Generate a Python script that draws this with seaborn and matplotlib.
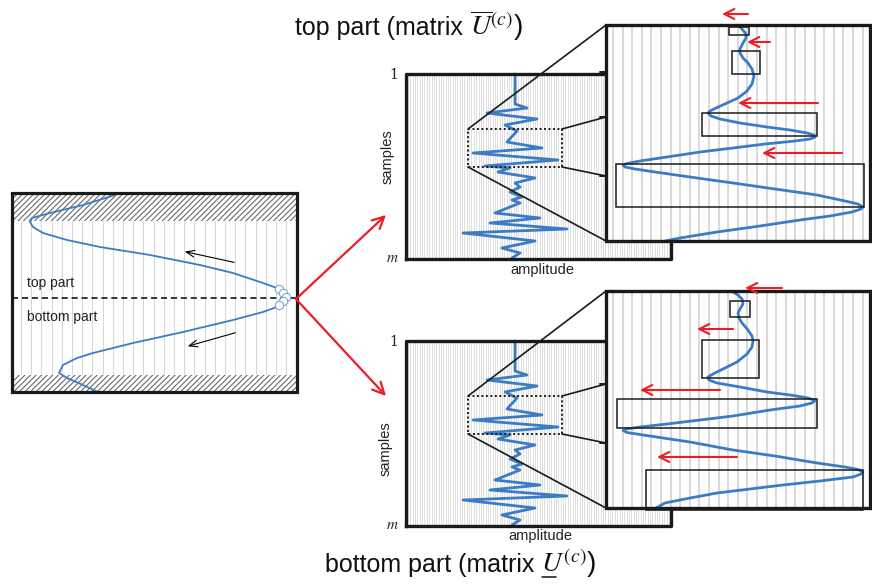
import numpy as np
import matplotlib
matplotlib.use("Agg")
import matplotlib.pyplot as plt
import seaborn as sns
from matplotlib.patches import Rectangle

sns.set_theme(style="white")
plt.rcParams['font.family'] = ['Liberation Sans', 'DejaVu Sans']
plt.rcParams['mathtext.fontset'] = 'stix'
plt.rcParams['hatch.linewidth'] = 0.8

# ---------------- data (pixel units) ----------------
left_top_x = [115, 83, 50, 32, 30, 33, 43, 67, 100, 150, 200, 233, 260, 277]
left_top_y = [195, 205, 213, 218, 222, 227, 233, 240, 247, 255, 265, 273, 282, 288]
left_bot_x = [277, 263, 233, 183, 133, 93, 77, 63, 59, 67, 83, 100]
left_bot_y = [307, 312, 320, 332, 343, 353, 358, 365, 373, 378, 385, 393]

wave_amp = [515, 515, 527, 487, 537, 505, 517, 507, 542, 473, 558, 485, 510, 498, 535,
            515, 520, 510, 522, 512, 520, 495, 540, 490, 567, 463, 535, 502, 520, 512]
wave_samp = [74, 104, 108, 113, 119, 125, 131, 142, 148, 153, 160, 166, 168, 172, 178,
             183, 187, 192, 197, 200, 203, 213, 218, 223, 229, 233, 241, 248, 253, 258]

top_zoom_x = [738, 742, 746, 746, 743, 740, 740, 743, 748, 752, 754, 752, 747, 738, 727,
              716, 710, 708, 711, 720, 740, 767, 790, 807, 814, 815, 810, 795, 765, 733,
              700, 667, 640, 627, 623, 625, 635, 655, 690, 733, 775, 817, 845, 858, 863,
              861, 852, 830, 800, 760, 717, 680, 665]
top_zoom_y = [25, 29, 34, 38, 43, 49, 53, 58, 63, 69, 76, 84, 91, 98, 103,
              108, 111, 113, 116, 119, 123, 127, 130, 133, 135, 137, 139, 141, 144, 148,
              152, 157, 161, 163.5, 165, 167, 169, 172, 177, 183, 189, 195, 201, 204, 207,
              209, 212, 216, 220, 226, 232, 238, 241]

bot_zoom_x = [733, 738, 742, 743, 740, 738, 739, 742, 748, 752, 753, 752, 747, 737, 725,
              713, 708, 709, 717, 740, 767, 790, 808, 815, 812, 800, 770, 733, 700, 667,
              640, 626, 623, 627, 643, 690, 733, 775, 817, 845, 858, 863, 861, 853, 820,
              783, 750, 717, 690, 665, 656]
bot_zoom_y = [292, 295, 299, 304, 309, 313, 318, 323, 330, 336, 341, 347, 354, 362, 368,
              374, 377, 380, 383, 387, 392, 395, 398, 400.5, 403, 406, 410, 416, 420, 424,
              427, 429, 430.5, 432.5, 435, 442, 450, 456, 463, 467, 469.5, 472, 474, 477, 481,
              485, 489, 493, 498, 503, 508]

top_boxes = [(729, 27, 749, 35), (732, 51, 760, 74), (702, 113, 817, 136), (616, 164, 864, 207)]
bot_boxes = [(730, 301, 750, 317), (702, 340, 759, 378), (617, 399, 817, 428), (646, 470, 863, 510)]

top_arrows = [(748, 14, 722, 14), (770, 42, 747, 42), (818, 103, 738, 103), (842, 153, 762, 153)]
bot_arrows = [(782, 288, 745, 288), (733, 329, 697, 329), (720, 390, 640, 390), (737, 457, 657, 457)]

BLUE = '#3b7cc4'
RED = '#ee1c25'
GRAY = '#cfcfcf'

fig = plt.figure(figsize=(8.72, 5.86), dpi=100)
ax = fig.add_axes([0, 0, 1, 1])
ax.set_facecolor('white')

# ---------------- left panel ----------------
ax.vlines(np.arange(21, 292, 10.2), 193, 392, color='#d6d6d6', lw=0.7, zorder=1)
ax.add_patch(Rectangle((12, 193), 285, 28, facecolor='white', edgecolor='#6a6a6a', lw=0,
                       hatch='//////', zorder=2))
ax.add_patch(Rectangle((12, 375), 285, 17, facecolor='white', edgecolor='#6a6a6a', lw=0,
                       hatch='//////', zorder=2))
ax.plot([12, 297], [298, 298], color='black', lw=1.1, ls=(0, (4, 2.5)), zorder=3)
sns.lineplot(x=left_top_x, y=left_top_y, sort=False, estimator=None, color=BLUE, lw=1.3, ax=ax, zorder=4)
sns.lineplot(x=left_bot_x, y=left_bot_y, sort=False, estimator=None, color=BLUE, lw=1.3, ax=ax, zorder=4)
for cx, cy in [(279, 289), (283, 293), (286, 297), (283, 301), (279, 305)]:
    ax.plot([cx], [cy], marker='o', ms=6, mfc='white', mec='#7fa6d6', mew=0.8, zorder=5)
ax.add_patch(Rectangle((12, 193), 285, 199, fill=False, edgecolor='#1a1a1a', lw=2.3, zorder=6))
ax.text(27, 283, 'top part', fontsize=10, va='center', ha='left', color='#222222', zorder=6)
ax.text(27, 317, 'bottom part', fontsize=10, va='center', ha='left', color='#222222', zorder=6)
ax.annotate('', xy=(182, 251), xytext=(237, 263),
            arrowprops=dict(arrowstyle='->,head_length=0.5,head_width=0.2', color='black', lw=0.8), zorder=6)
ax.annotate('', xy=(185, 347), xytext=(238, 332),
            arrowprops=dict(arrowstyle='->,head_length=0.5,head_width=0.2', color='black', lw=0.8), zorder=6)
for tx, ty in [(386, 215), (386, 396)]:
    ax.annotate('', xy=(tx, ty), xytext=(296, 299),
                arrowprops=dict(arrowstyle='->,head_length=0.7,head_width=0.35', color=RED, lw=1.6,
                                shrinkA=0, shrinkB=0), zorder=6)


def middle_panel(dy, iy0, iy1, zoom_x, zoom_y, boxes, arrows, ticks):
    ax.vlines(np.arange(408, 670, 2.35), 75 + dy, 258 + dy, color='#cdcdcd', lw=0.45, zorder=1)
    sns.lineplot(x=wave_amp, y=[s + dy for s in wave_samp], sort=False, estimator=None,
                 color=BLUE, lw=2.0, ax=ax, zorder=3, solid_joinstyle='round')
    ax.plot([406, 671, 671], [259 + dy, 259 + dy, 240 + dy], color='#1a1a1a', lw=2.4, zorder=4,
            solid_capstyle='projecting')
    ax.plot([406, 406, 606], [259 + dy, 74 + dy, 74 + dy], color='#1a1a1a', lw=2.4, zorder=4,
            solid_capstyle='projecting')
    ax.add_patch(Rectangle((468, 129 + dy), 94, 38, fill=False, edgecolor='#1a1a1a', lw=1.4,
                           ls=(0, (1, 1.3)), zorder=4))
    ax.plot([468, 606], [129 + dy, iy0], color='#1a1a1a', lw=1.2, zorder=4)
    ax.plot([468, 606], [167 + dy, iy1], color='#1a1a1a', lw=1.2, zorder=4)
    ax.plot([562, 606], [129 + dy, ticks[1]], color='#1a1a1a', lw=1.2, zorder=4)
    ax.plot([562, 606], [167 + dy, ticks[2]], color='#1a1a1a', lw=1.2, zorder=4)
    ax.text(398, 75 + dy, '1', fontsize=10, family='DejaVu Serif', ha='right', va='center', zorder=4)
    ax.text(399, 258 + dy, r'$m$', fontsize=11, ha='right', va='center', zorder=4)
    ax.add_patch(Rectangle((606, iy0), 264, iy1 - iy0, facecolor='white', edgecolor='none', zorder=5))
    ax.vlines(np.arange(613, 866, 9.6), iy0, iy1, color=GRAY, lw=1.1, zorder=6)
    sns.lineplot(x=zoom_x, y=zoom_y, sort=False, estimator=None, color=BLUE, lw=2.0, ax=ax, zorder=7,
                 solid_joinstyle='round')
    for (x0, y0, x1, y1) in boxes:
        ax.add_patch(Rectangle((x0, y0), x1 - x0, y1 - y0, fill=False, edgecolor='#1a1a1a', lw=1.1, zorder=8))
    ax.add_patch(Rectangle((606, iy0), 264, iy1 - iy0, fill=False, edgecolor='#1a1a1a', lw=2.4, zorder=9))
    for t in ticks:
        ax.plot([600, 606], [t, t], color='#1a1a1a', lw=1.4, zorder=9)
    for (x0, y0, x1, y1) in arrows:
        ax.annotate('', xy=(x1, y1), xytext=(x0, y0),
                    arrowprops=dict(arrowstyle='->,head_length=0.6,head_width=0.3', color=RED, lw=1.5,
                                    shrinkA=0, shrinkB=0), zorder=10)


middle_panel(0, 25, 241, top_zoom_x, top_zoom_y, top_boxes, top_arrows, [72, 117, 176])
middle_panel(267, 291, 508, bot_zoom_x, bot_zoom_y, bot_boxes, bot_arrows, [341, 384, 443])

ax.text(388, 157, 'samples', rotation=90, fontsize=10.5, ha='center', va='center', color='#222222')
ax.text(386, 449, 'samples', rotation=90, fontsize=10.5, ha='center', va='center', color='#222222')
ax.text(542, 270, 'amplitude', fontsize=10.5, ha='center', va='center', color='#222222')
ax.text(540, 536, 'amplitude', fontsize=10.5, ha='center', va='center', color='#222222')

ax.set_xlim(0, 872)
ax.set_ylim(586, 0)
ax.axis('off')

# titles
r = fig.canvas.get_renderer()
inv = ax.transData.inverted()


def title(x, y, prefix, math, under=False):
    t = ax.text(x, y, prefix, fontsize=18, ha='left', va='baseline', color='#111111')
    fig.canvas.draw()
    bb = t.get_window_extent(renderer=fig.canvas.get_renderer())
    xe = inv.transform((bb.x1, bb.y0))[0]
    ax.text(xe, y, math, fontsize=20, ha='left', va='baseline', color='#111111')
    if under:
        ax.plot([xe + 1, xe + 15], [y + 5, y + 5], color='#111111', lw=1.1)


title(295, 35, 'top part (matrix ', r'$\overline{U}^{(c)}$)')
title(325, 572, 'bottom part (matrix ', r'$U^{(c)}$)', under=True)

ax.set_xlim(0, 872)
ax.set_ylim(586, 0)
ax.axis('off')
fig.savefig('out.png', dpi=100, facecolor='white')
